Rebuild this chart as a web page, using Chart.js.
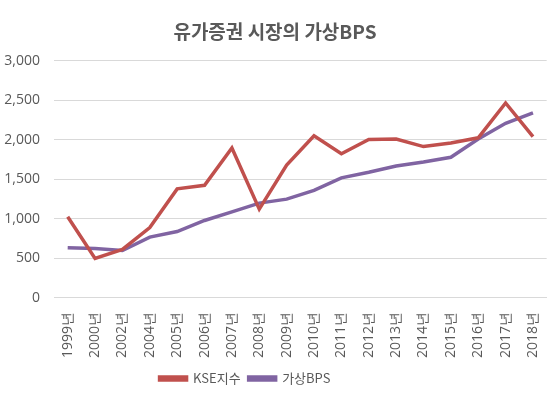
<!DOCTYPE html>
<html><head><meta charset="utf-8">
<script src="https://cdn.jsdelivr.net/npm/chart.js@4/dist/chart.umd.min.js"></script>
<style>html,body{margin:0;padding:0;background:#fff}#w{width:556px;height:395px}</style>
</head><body><div id="w"><canvas id="c" width="556" height="395"></canvas></div>
<script>
const categories = ['1999년','2000년','2002년','2004년','2005년','2006년','2007년','2008년','2009년','2010년','2011년','2012년','2013년','2014년','2015년','2016년','2017년','2018년'];
const kseIndex = [1028,500,615,890,1380,1425,1897,1124,1682,2051,1825,2005,2011,1915,1961,2026,2467,2041];
const virtualBps = [636,625,600,770,840,980,1090,1200,1250,1360,1520,1590,1670,1720,1780,2010,2210,2340];
const yTicks = [0,500,1000,1500,2000,2500,3000];
const FONT = "'Noto Sans CJK KR','Noto Sans',sans-serif";
const NUMFONT = "'Open Sans','Noto Sans',sans-serif";
const legendShift = {
  id:'legendShift',
  afterUpdate(chart){ const l = chart.legend; if(l){ l.left -= 30; l.right -= 30; } }
};
new Chart(document.getElementById('c'), {
  type: 'line',
  data: {
    labels: categories,
    datasets: [
      {label:'KSE지수', data:kseIndex, borderColor:'#C0504D', backgroundColor:'#C0504D', borderWidth:3.5, pointRadius:0, tension:0},
      {label:'가상BPS', data:virtualBps, borderColor:'#8064A2', backgroundColor:'#8064A2', borderWidth:3.5, pointRadius:0, tension:0}
    ]
  },
  plugins:[legendShift],
  options: {
    responsive:false, animation:false,
    layout:{padding:{left:2,right:8,top:12,bottom:0}},
    plugins:{
      title:{display:true,text:'유가증권 시장의 가상BPS',color:'#595959',font:{family:FONT,size:19,weight:'bold'},padding:{top:8,bottom:18}},
      legend:{position:'bottom',labels:{color:'#595959',font:{family:FONT,size:13},boxWidth:27,boxHeight:3,padding:8}},
      tooltip:{enabled:false}
    },
    scales:{
      x:{offset:true,grid:{display:false},border:{color:'#d9d9d9'},
         ticks:{color:'#595959',font:{family:NUMFONT,size:14},padding:6,minRotation:90,maxRotation:90,autoSkip:false}},
      y:{min:0,max:3000,afterBuildTicks:(ax)=>{ax.ticks=yTicks.map(v=>({value:v}));},
         afterFit:(ax)=>{ax.width=52;},
         grid:{color:'#d9d9d9',drawTicks:false},border:{display:false},
         ticks:{color:'#595959',font:{family:NUMFONT,size:14},padding:14,callback:v=>v.toLocaleString('en-US')}}
    }
  }
});
</script></body></html>
